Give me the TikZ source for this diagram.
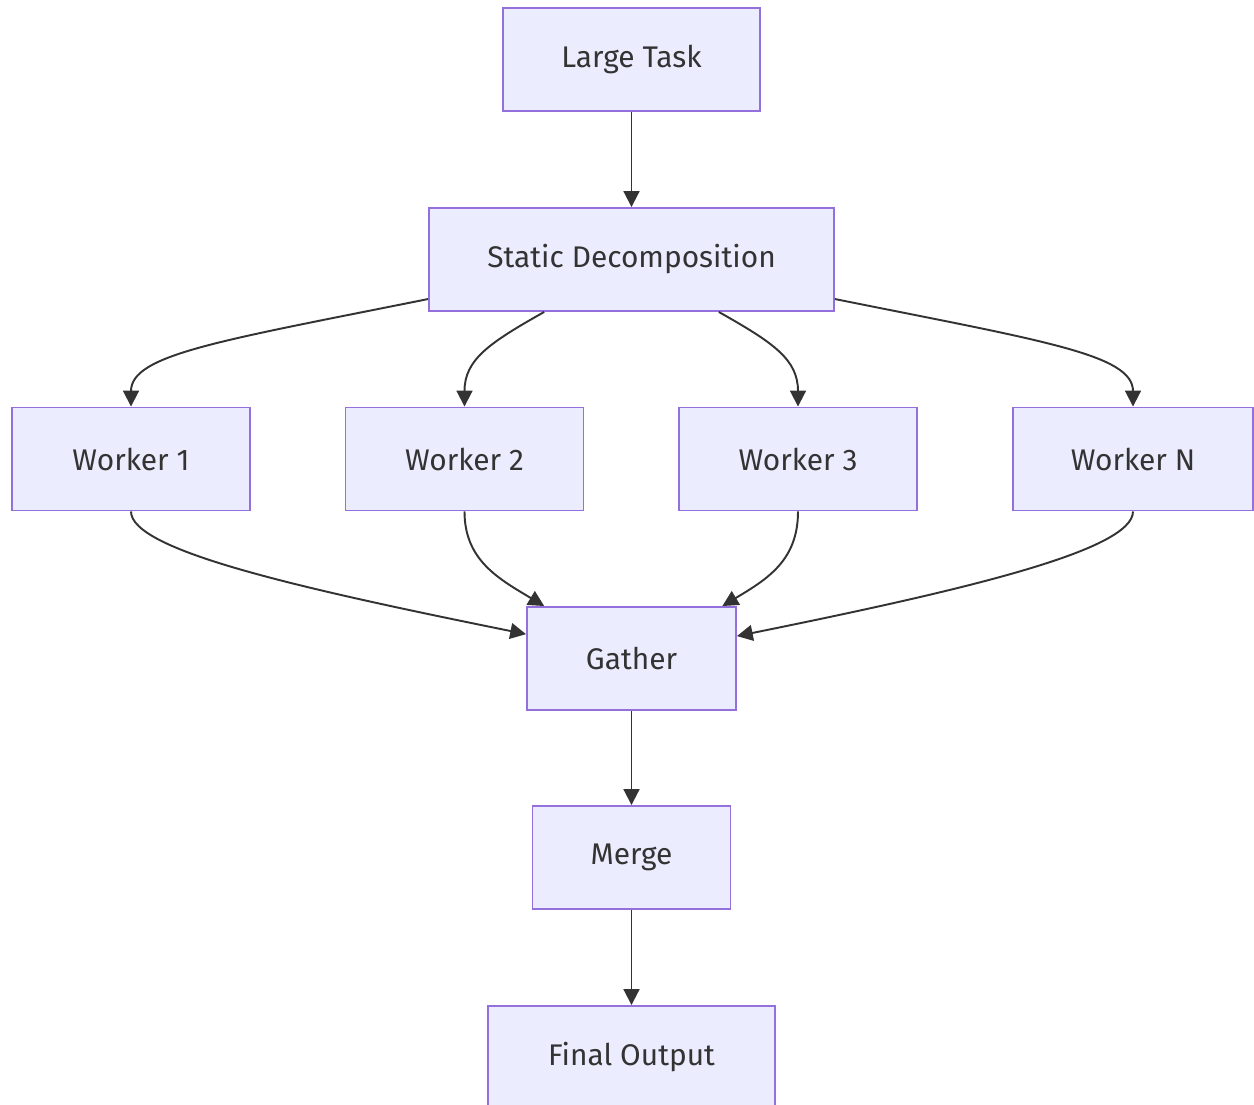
\documentclass[tikz,border=0pt]{standalone}
\usepackage{fontspec}
\setmainfont{Fira Sans}
\usepackage{tikz}
\usetikzlibrary{arrows.meta}

\definecolor{boxfill}{HTML}{ECECFF}
\definecolor{boxline}{HTML}{9370DB}
\definecolor{edgeline}{HTML}{333333}

\begin{document}
\begin{tikzpicture}[x=0.02cm,y=-0.02cm,
    stage/.style={draw=boxline,fill=boxfill,line width=1.1pt,text=edgeline,
      minimum height=2.06cm,inner sep=0pt,font=\fontsize{17}{20}\selectfont},
    flow/.style={draw=edgeline,line width=1.1pt,-{Triangle[length=9pt,width=9pt]}}]
          \useasboundingbox (0,0) rectangle (1254,1105);
          \clip (0,0) rectangle (1254,1105);

          \node[stage,minimum width=5.14cm] (task) at (631.5,59.5) {Large Task};
          \node[stage,minimum width=8.1cm] (static) at (631.5,259.5) {Static Decomposition};

          \node[stage,minimum width=4.76cm] (w1) at (131,459) {Worker 1};
          \node[stage,minimum width=4.76cm] (w2) at (464.5,459) {Worker 2};
          \node[stage,minimum width=4.76cm] (w3) at (798,459) {Worker 3};
          \node[stage,minimum width=4.8cm] (wn) at (1133,459) {Worker N};

          \node[stage,minimum width=4.18cm] (gather) at (631.5,658.5) {Gather};
          \node[stage,minimum width=3.96cm] (merge) at (631.5,857.5) {Merge};
          \node[stage,minimum width=5.74cm] (final) at (631.5,1057.5) {Final Output};

          \draw[flow] (task) -- (static);
          \draw[flow] (static.191) .. controls +(-209,42) and +(0,-52) .. (w1.north);
          \draw[flow] (static.211) .. controls +(-55,31) and +(0,-47) .. (w2.north);
          \draw[flow] (static.329) .. controls +(55,31) and +(0,-47) .. (w3.north);
          \draw[flow] (static.349) .. controls +(209,42) and +(0,-52) .. (wn.north);

          \draw[flow] (w1.south) .. controls +(0,39) and +(-227,-46) .. (gather.167.8);
          \draw[flow] (w2.south) .. controls +(0,49) and +(-45,-27) .. (gather.149.2);
          \draw[flow] (w3.south) .. controls +(0,49) and +(45,-27) .. (gather.30.8);
          \draw[flow] (wn.south) .. controls +(0,39) and +(227,-46) .. (gather.12.2);

          \draw[flow] (gather) -- (merge);
          \draw[flow] (merge) -- (final);
        \end{tikzpicture}
\end{document}
